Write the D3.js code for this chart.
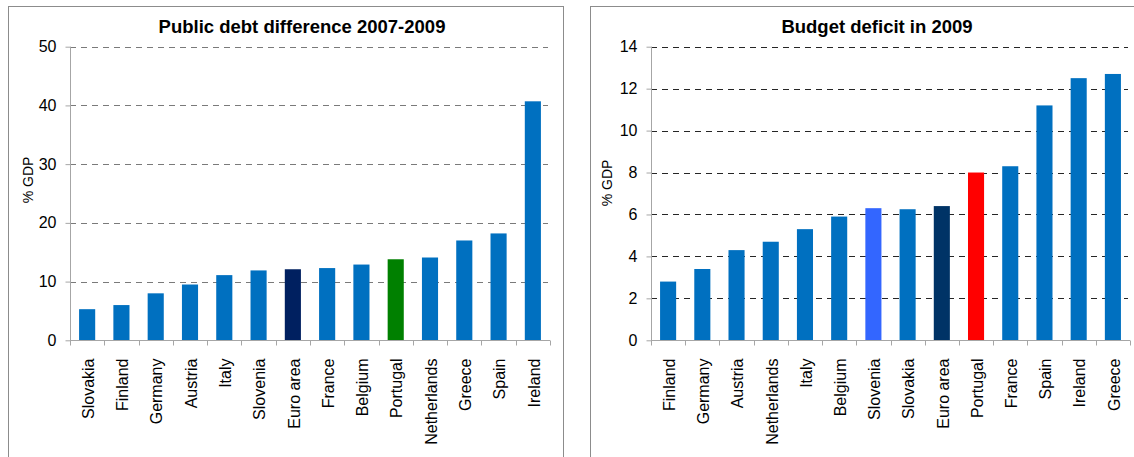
<!DOCTYPE html>
<html>
<head>
<meta charset="utf-8">
<script src="https://cdn.jsdelivr.net/npm/d3@7"></script>
<style>
  html, body { margin: 0; padding: 0; background: #fff; }
  svg { display: block; font-family: "Liberation Sans", Arial, sans-serif; }
</style>
</head>
<body>
<svg id="chart" width="1134" height="457"></svg>
<script>
// Public debt change 2007-2009 (% of GDP)
const debtCountries = ["Slovakia", "Finland", "Germany", "Austria", "Italy", "Slovenia", "Euro area",
  "France", "Belgium", "Portugal", "Netherlands", "Greece", "Spain", "Ireland"];
const debtValues = [5.3, 6.0, 8.0, 9.5, 11.1, 11.9, 12.1, 12.3, 12.9, 13.8, 14.1, 17.0, 18.2, 40.7];
const debtTicks = [0, 10, 20, 30, 40, 50];

// Budget deficit 2009 (% of GDP)
const deficitCountries = ["Finland", "Germany", "Austria", "Netherlands", "Italy", "Belgium", "Slovenia",
  "Slovakia", "Euro area", "Portugal", "France", "Spain", "Ireland", "Greece"];
const deficitValues = [2.8, 3.4, 4.3, 4.7, 5.3, 5.9, 6.3, 6.25, 6.4, 8.0, 8.3, 11.2, 12.5, 12.7];
const deficitTicks = [0, 2, 4, 6, 8, 10, 12, 14];

const svg = d3.select("#chart");

function drawPanel(opt) {
  const g = svg.append("g");

  // panel frame (open at the bottom / right edge of the page)
  g.append("rect")
    .attr("x", opt.frame[0] + 0.5).attr("y", opt.frame[1] + 0.5)
    .attr("width", opt.frame[2]).attr("height", opt.frame[3])
    .attr("fill", "none").attr("stroke", "#8c8c8c").attr("stroke-width", 1);

  const x = d3.scaleBand().domain(opt.categories)
    .range([opt.left, opt.right]).paddingInner(0.53).paddingOuter(0.265);
  const y = d3.scaleLinear().domain([0, opt.max]).range([opt.bottom, opt.top]);

  // dashed gridlines
  g.append("g").selectAll("line")
    .data(opt.ticks.filter(t => t > 0))
    .join("line")
    .attr("x1", opt.left).attr("x2", opt.right - 2)
    .attr("y1", d => Math.round(y(d)) + 0.5).attr("y2", d => Math.round(y(d)) + 0.5)
    .attr("stroke", opt.gridColor).attr("stroke-width", 1)
    .attr("stroke-dasharray", "6,5");

  // bars
  g.append("g").selectAll("rect")
    .data(opt.values.map((v, i) => ({ c: opt.categories[i], v })))
    .join("rect")
    .attr("x", d => x(d.c))
    .attr("width", x.bandwidth())
    .attr("y", d => y(d.v))
    .attr("height", d => y(0) - y(d.v))
    .attr("fill", d => opt.highlight[d.c] || "#0070C0");

  // y axis
  const yAxis = g.append("g")
    .attr("transform", `translate(${opt.left + 0.5},0)`)
    .call(d3.axisLeft(y).tickValues(opt.ticks).tickSize(5).tickPadding(9).tickFormat(d3.format("d")));
  yAxis.select(".domain").attr("stroke", "#a6a6a6").attr("d", `M-0,${opt.top}V${opt.bottom}`);
  yAxis.selectAll(".tick line").attr("stroke", "#a6a6a6");
  yAxis.selectAll(".tick text")
    .attr("fill", "#000").style("font-size", "16px")
    .style("font-family", '"Liberation Sans", Arial, sans-serif');

  // x axis: baseline plus separators between categories
  const xAxis = g.append("g").attr("transform", `translate(0,${Math.round(opt.bottom) + 0.5})`);
  xAxis.append("line").attr("x1", opt.left).attr("x2", opt.right)
    .attr("stroke", "#a6a6a6");
  const step = x.step();
  xAxis.selectAll("line.sep")
    .data(d3.range(opt.categories.length + 1))
    .join("line").attr("class", "sep")
    .attr("x1", i => Math.round(opt.left + i * step) + 0.5)
    .attr("x2", i => Math.round(opt.left + i * step) + 0.5)
    .attr("y1", 0).attr("y2", 5)
    .attr("stroke", "#a6a6a6");
  xAxis.selectAll("text")
    .data(opt.categories)
    .join("text")
    .attr("transform", d => `translate(${x(d) + x.bandwidth() / 2 + 1},18) rotate(-90)`)
    .attr("text-anchor", "end")
    .attr("dy", "0.36em")
    .style("font-size", "16px")
    .text(d => d);

  // y axis title
  g.append("text")
    .attr("transform", `translate(${opt.yLabelX},${opt.yLabelY}) rotate(-90)`)
    .attr("text-anchor", "middle")
    .style("font-size", "14px")
    .text("% GDP");

  // chart title
  g.append("text")
    .attr("x", opt.titleX).attr("y", 33)
    .attr("text-anchor", "middle")
    .style("font-size", "18.5px").style("font-weight", "bold")
    .text(opt.title);
}

drawPanel({
  title: "Public debt difference 2007-2009",
  titleX: 302,
  frame: [8, 6, 555, 470],
  left: 70, right: 550, top: 46.7, bottom: 340.3,
  max: 50, ticks: debtTicks,
  categories: debtCountries, values: debtValues,
  gridColor: "#7a7a7a",
  highlight: { "Euro area": "#002060", "Portugal": "#008000" },
  yLabelX: 33, yLabelY: 180
});

drawPanel({
  title: "Budget deficit in 2009",
  titleX: 877,
  frame: [590, 6, 560, 470],
  left: 651, right: 1130, top: 46.7, bottom: 340.3,
  max: 14, ticks: deficitTicks,
  categories: deficitCountries, values: deficitValues,
  gridColor: "#262626",
  highlight: { "Slovenia": "#3366FF", "Euro area": "#003366", "Portugal": "#FF0000" },
  yLabelX: 612, yLabelY: 183
});
</script>
</body>
</html>
